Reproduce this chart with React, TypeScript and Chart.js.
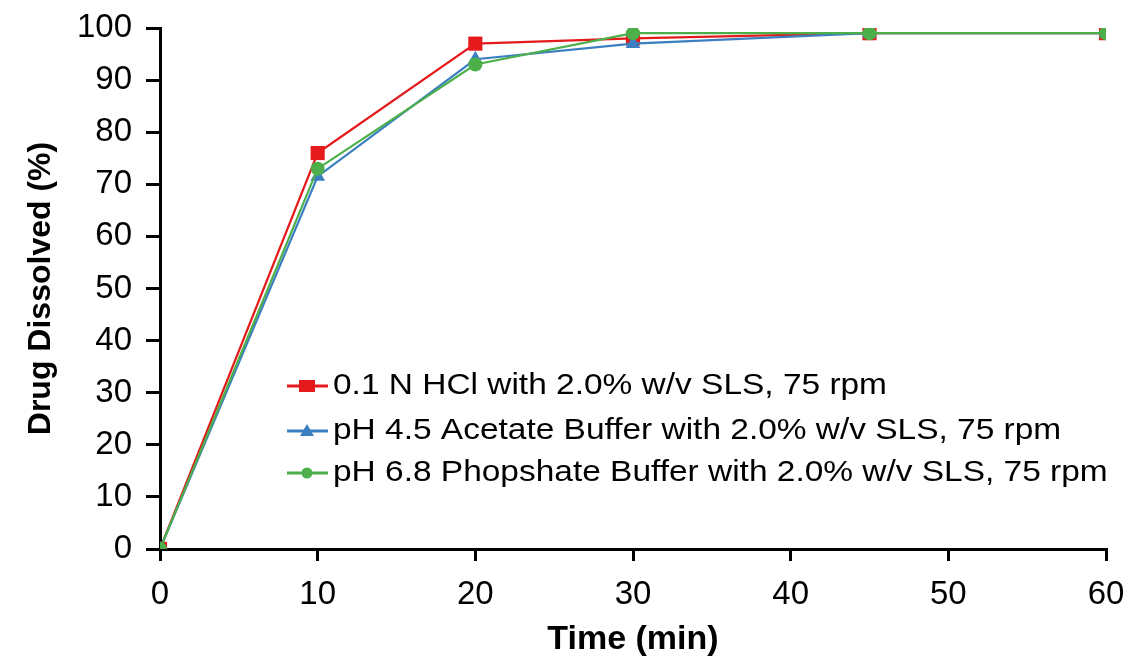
import React, { useEffect, useRef } from "react";
import { Chart, registerables } from "chart.js";

Chart.register(...registerables);

// ---- data ----
const times = [0, 10, 20, 30, 45, 60];
const hclValues = [0, 76, 97, 98, 99, 99];
const acetateValues = [0, 71.5, 94, 97, 99, 99];
const phosphateValues = [0, 73, 93, 99, 99, 99];
const seriesLabels = [
  "0.1 N HCl with 2.0% w/v SLS, 75 rpm",
  "pH 4.5 Acetate Buffer with 2.0% w/v SLS, 75 rpm",
  "pH 6.8 Phopshate Buffer with 2.0% w/v SLS, 75 rpm",
];
const seriesColors = ["#e41a1c", "#3b7fc0", "#4caf4a"];
const seriesPointStyles = ["rect", "triangle", "circle"];
const seriesPointRadius = [10, 8.5, 7];
const xTitle = "Time (min)";
const yTitle = "Drug Dissolved (%)";
const xTicks = [0, 10, 20, 30, 40, 50, 60];
const yTicks = [0, 10, 20, 30, 40, 50, 60, 70, 80, 90, 100];

const FONT = '"Liberation Sans", Arial, Helvetica, sans-serif';

const insideLegend = {
  id: "insideLegend",
  afterDatasetsDraw(chart: any) {
    const ctx = chart.ctx as CanvasRenderingContext2D;
    const rows = [386, 431, 473];
    const lineX0 = 287;
    const lineX1 = 328;
    const markX = 307;
    const textX = 333;
    chart.data.datasets.forEach((ds: any, i: number) => {
      const y = rows[i];
      ctx.save();
      ctx.strokeStyle = ds.borderColor;
      ctx.lineWidth = 3;
      ctx.beginPath();
      ctx.moveTo(lineX0, y);
      ctx.lineTo(lineX1, y);
      ctx.stroke();
      ctx.fillStyle = ds.backgroundColor;
      const st = ds.pointStyle;
      ctx.beginPath();
      if (st === "rect") {
        ctx.rect(markX - 8, y - 6, 16, 12);
      } else if (st === "triangle") {
        ctx.moveTo(markX, y - 7);
        ctx.lineTo(markX + 7, y + 5);
        ctx.lineTo(markX - 7, y + 5);
        ctx.closePath();
      } else {
        ctx.arc(markX, y, 5.5, 0, Math.PI * 2);
      }
      ctx.fill();
      ctx.translate(textX, y);
      ctx.scale(1.115, 1);
      ctx.font = `30px ${FONT}`;
      ctx.fillStyle = "#000";
      ctx.textAlign = "left";
      ctx.textBaseline = "middle";
      ctx.fillText(ds.label, 0, 0);
      ctx.restore();
    });
  },
};

export default function App() {
  const canvasRef = useRef<HTMLCanvasElement | null>(null);

  useEffect(() => {
    if (!canvasRef.current) return;
    const series = [hclValues, acetateValues, phosphateValues];
    const datasets = series.map((vals, i) => ({
      label: seriesLabels[i],
      data: times.map((t, j) => ({ x: t, y: vals[j] })),
      borderColor: seriesColors[i],
      backgroundColor: seriesColors[i],
      pointBackgroundColor: seriesColors[i],
      pointBorderColor: seriesColors[i],
      pointBorderWidth: 0,
      pointStyle: seriesPointStyles[i],
      pointRadius: seriesPointRadius[i],
      borderWidth: 2.2,
      tension: 0,
      fill: false,
      order: 2 - i,
    }));

    const tickFont = { family: FONT, size: 33 };
    const chart = new Chart(canvasRef.current, {
      type: "line",
      data: { datasets },
      options: {
        animation: false,
        responsive: false,
        devicePixelRatio: 1,
        layout: { padding: { top: 28, right: 36, left: 0, bottom: 0 } },
        plugins: {
          legend: { display: false },
          tooltip: { enabled: false },
        },
        scales: {
          x: {
            type: "linear",
            min: 0,
            max: 60,
            afterFit: (s: any) => {
              s.height = 112;
            },
            afterBuildTicks: (s: any) => {
              s.ticks = xTicks.map((v) => ({ value: v }));
            },
            ticks: { font: tickFont, color: "#000", padding: 14, maxRotation: 0 },
            grid: {
              display: true,
              drawOnChartArea: false,
              drawTicks: true,
              tickLength: 12,
              color: "#000",
              lineWidth: 3,
              tickWidth: 3,
            },
            border: { display: true, color: "#000", width: 3 },
            title: {
              display: true,
              text: xTitle,
              color: "#000",
              font: { family: FONT, size: 34, weight: "bold" },
              padding: { top: 0, bottom: 1 },
            },
          },
          y: {
            type: "linear",
            min: 0,
            max: 100,
            afterFit: (s: any) => {
              s.width = 160;
              s.paddingTop = 0;
              s.paddingBottom = 0;
            },
            afterBuildTicks: (s: any) => {
              s.ticks = yTicks.map((v) => ({ value: v }));
            },
            ticks: { font: tickFont, color: "#000", padding: 14 },
            grid: {
              display: true,
              drawOnChartArea: false,
              drawTicks: true,
              tickLength: 14,
              color: "#000",
              lineWidth: 3,
              tickWidth: 3,
            },
            border: { display: true, color: "#000", width: 3 },
            title: {
              display: true,
              text: yTitle,
              color: "#000",
              font: { family: FONT, size: 32, weight: "bold" },
              padding: { top: 22, bottom: 0 },
            },
          },
        },
      },
      plugins: [insideLegend],
    } as any);
    return () => chart.destroy();
  }, []);

  return (
    <div style={{ position: "absolute", left: 0, top: 0, width: 1142, height: 661, background: "#fff" }}>
      <canvas ref={canvasRef} width={1142} height={661} style={{ display: "block" }} />
    </div>
  );
}
